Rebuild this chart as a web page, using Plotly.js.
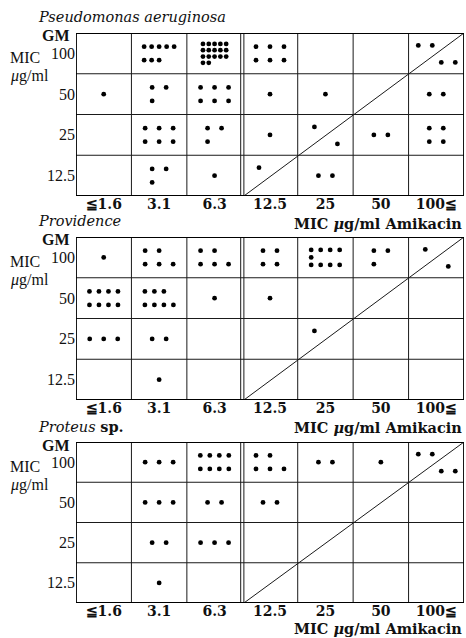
<!DOCTYPE html>
<html><head><meta charset="utf-8">
<script src="https://cdn.plot.ly/plotly-3.0.1.min.js"></script>
<style>html,body{margin:0;padding:0;background:#fff;}#chart{width:466px;height:638px;}</style>
</head><body><div id="chart"></div>
<script>
// Category labels
const xCats = ['≦1.6', '3.1', '6.3', '12.5', '25', '50', '100≦'];   // Amikacin MIC
const yCats = ['12.5', '25', '50', '100'];                          // GM MIC (bottom to top)

// Panel 1: Pseudomonas aeruginosa (one entry per dot group; rows = dots per printed row)
const psX    = ['3.1','6.3','12.5','100≦','100≦', '≦1.6','3.1','6.3','12.5','25','100≦', '3.1','6.3','12.5','25','25','50','100≦', '3.1','6.3','12.5','25'];
const psY    = ['100','100','100','100','100', '50','50','50','50','50','50', '25','25','25','25','25','25','25', '12.5','12.5','12.5','12.5'];
const psRows = ['5,3','5,5,5,2','3,3','2','2', '1','2,1','3,3','1','1','2', '3,3','2,1','1','1','1','2','2,2', '2,1','1','1','2'];
const psSide = ['c','c','c','a','b', 'c','c','c','c','c','c', 'c','c','c','a','b','c','c', 'c','c','a','c'];

// Panel 2: Providence
const prvX    = ['≦1.6','3.1','6.3','12.5','25','50','100≦','100≦', '≦1.6','3.1','6.3','12.5', '≦1.6','3.1','25', '3.1'];
const prvY    = ['100','100','100','100','100','100','100','100', '50','50','50','50', '25','25','25', '12.5'];
const prvRows = ['1','2,3','2,3','2,2','4,1,4','2,1','1','1', '4,4','3,4','1','1', '3','2','1', '1'];
const prvSide = ['c','c','c','c','c','c','a','b', 'c','c','c','c', 'c','c','a', 'c'];

// Panel 3: Proteus sp.
const proX    = ['3.1','6.3','12.5','25','50','100≦','100≦', '3.1','6.3','12.5', '3.1','6.3', '3.1'];
const proY    = ['100','100','100','100','100','100','100', '50','50','50', '25','25', '12.5'];
const proRows = ['3','4,4','2,3','2','1','2','2', '3','2','2', '2','3', '1'];
const proSide = ['c','c','c','c','c','a','b', 'c','c','c', 'c','c', 'c'];

const W = 466, H = 638;
const plotL = 76, plotR = 464;
const panels = [
  {top: 33,  bottom: 196, xs: psX,  ys: psY,  rows: psRows,  sides: psSide,  title: '<i>Pseudomonas aeruginosa</i>'},
  {top: 237, bottom: 400, xs: prvX, ys: prvY, rows: prvRows, sides: prvSide, title: '<i>Providence</i>'},
  {top: 442, bottom: 603, xs: proX, ys: proY, rows: proRows, sides: proSide, title: '<i>Proteus</i> <b>sp.</b>'}
];

function dotPositions(p) {
  const colPx = (plotR - plotL) / xCats.length;
  const rowPx = (p.bottom - p.top) / yCats.length;
  const X = [], Y = [];
  p.xs.forEach((xc, i) => {
    const ci = xCats.indexOf(xc), ri = yCats.indexOf(p.ys[i]);
    const counts = p.rows[i].split(',').map(Number);
    const maxN = Math.max(...counts), nRows = counts.length;
    const dx = maxN <= 1 ? 0 : maxN <= 3 ? 14 : maxN === 4 ? 9.5 : (nRows >= 4 ? 5.8 : 7.5);
    const dy = nRows <= 1 ? 0 : nRows === 2 ? 13.5 : nRows === 3 ? 7.5 : 6.3;
    let cx = 0, cy = 0;
    if (p.sides[i] === 'a') { cx = -11; cy = 8; }
    else if (p.sides[i] === 'b') { cx = 12; cy = -9; }
    const x0 = cx - (maxN - 1) * dx / 2;
    const y0 = cy + (nRows - 1) * dy / 2;
    counts.forEach((n, r) => {
      for (let k = 0; k < n; k++) {
        X.push(ci + 0.5 + (x0 + k * dx) / colPx);
        Y.push(ri + 0.5 + (y0 - r * dy) / rowPx);
      }
    });
  });
  return {X, Y};
}

const data = [], shapes = [], annotations = [];
const layout = {
  width: W, height: H, margin: {l: 0, r: 0, t: 0, b: 0},
  paper_bgcolor: '#fff', plot_bgcolor: '#fff', showlegend: false
};
const lineCol = '#1a1a1a';
const serif = 'DejaVu Serif, Liberation Serif, serif';
const ySerif = 'Liberation Serif, DejaVu Serif, serif';

panels.forEach((p, k) => {
  const sfx = k === 0 ? '' : String(k + 1);
  const xr = 'x' + sfx, yr = 'y' + sfx;
  const pos = dotPositions(p);
  data.push({type: 'scatter', mode: 'markers', x: pos.X, y: pos.Y, xaxis: xr, yaxis: yr,
    marker: {size: 4.8, color: '#000'}, hoverinfo: 'skip'});
  const yDom = [1 - p.bottom / H, 1 - p.top / H];
  layout['xaxis' + sfx] = {domain: [plotL / W, plotR / W], range: [0, xCats.length], anchor: yr,
    showgrid: false, zeroline: false, showline: false, ticks: '', fixedrange: true,
    ticklabelstandoff: -2,
    tickvals: xCats.map((_, i) => i + 0.5), ticktext: xCats,
    tickfont: {family: serif, size: 14, weight: 'bold', color: '#111'}};
  layout['yaxis' + sfx] = {domain: yDom, range: [0, yCats.length], anchor: xr,
    showgrid: false, zeroline: false, showline: false, ticks: '', fixedrange: true,
    tickvals: yCats.map((_, i) => i + 0.5), ticktext: yCats,
    tickfont: {family: ySerif, size: 16, color: '#111'}};
  const colPx = (plotR - plotL) / xCats.length;
  const gap = 1.6 / colPx;
  // inner vertical lines
  for (let i = 1; i < xCats.length; i++) {
    if (i === 3) {
      [i - gap, i + gap].forEach(v => shapes.push({type: 'line', xref: xr, yref: yr, x0: v, x1: v, y0: 0, y1: yCats.length, line: {color: lineCol, width: 1}}));
    } else {
      shapes.push({type: 'line', xref: xr, yref: yr, x0: i, x1: i, y0: 0, y1: yCats.length, line: {color: lineCol, width: 1}});
    }
  }
  for (let j = 1; j < yCats.length; j++) {
    shapes.push({type: 'line', xref: xr, yref: yr, x0: 0, x1: xCats.length, y0: j, y1: j, line: {color: lineCol, width: 1}});
  }
  // diagonal (equal MIC line)
  shapes.push({type: 'line', xref: xr, yref: yr, x0: 3 + gap, y0: 0, x1: xCats.length, y1: yCats.length, line: {color: lineCol, width: 1}});
  shapes.push({type: 'rect', xref: xr, yref: yr, x0: 0, x1: xCats.length, y0: 0, y1: yCats.length, line: {color: '#000', width: 1.8}});

  // text
  annotations.push({xref: 'paper', yref: 'paper', x: 36 / W, y: 1 - (p.top - 16) / H, xanchor: 'left', yanchor: 'middle',
    text: p.title, showarrow: false, font: {family: serif, size: 14.5, color: '#111'}});
  annotations.push({xref: 'paper', yref: 'paper', x: 72 / W, y: 1 - (p.top + 3) / H, xanchor: 'right', yanchor: 'middle',
    text: '<b>GM</b>', showarrow: false, font: {family: 'Liberation Serif, serif', size: 16, color: '#111'}});
  const rowPx = (p.bottom - p.top) / yCats.length;
  const r100 = p.top + rowPx / 2;
  annotations.push({xref: 'paper', yref: 'paper', x: 8 / W, y: 1 - (r100 + 4) / H, xanchor: 'left', yanchor: 'middle',
    text: 'MIC', showarrow: false, font: {family: ySerif, size: 16, color: '#111'}});
  annotations.push({xref: 'paper', yref: 'paper', x: 8 / W, y: 1 - (r100 + 23) / H, xanchor: 'left', yanchor: 'middle',
    text: '<i>μ</i>g/ml', showarrow: false, font: {family: ySerif, size: 16, color: '#111'}});
  annotations.push({xref: 'paper', yref: 'paper', x: 464 / W, y: 1 - Math.min(p.bottom + 27, 628) / H, xanchor: 'right', yanchor: 'middle',
    text: '<b>MIC <i>μ</i>g/ml Amikacin</b>', showarrow: false, font: {family: serif, size: 14.5, color: '#111'}});
});
layout.shapes = shapes;
layout.annotations = annotations;

Plotly.newPlot('chart', data, layout, {staticPlot: true, displayModeBar: false});
</script></body></html>
